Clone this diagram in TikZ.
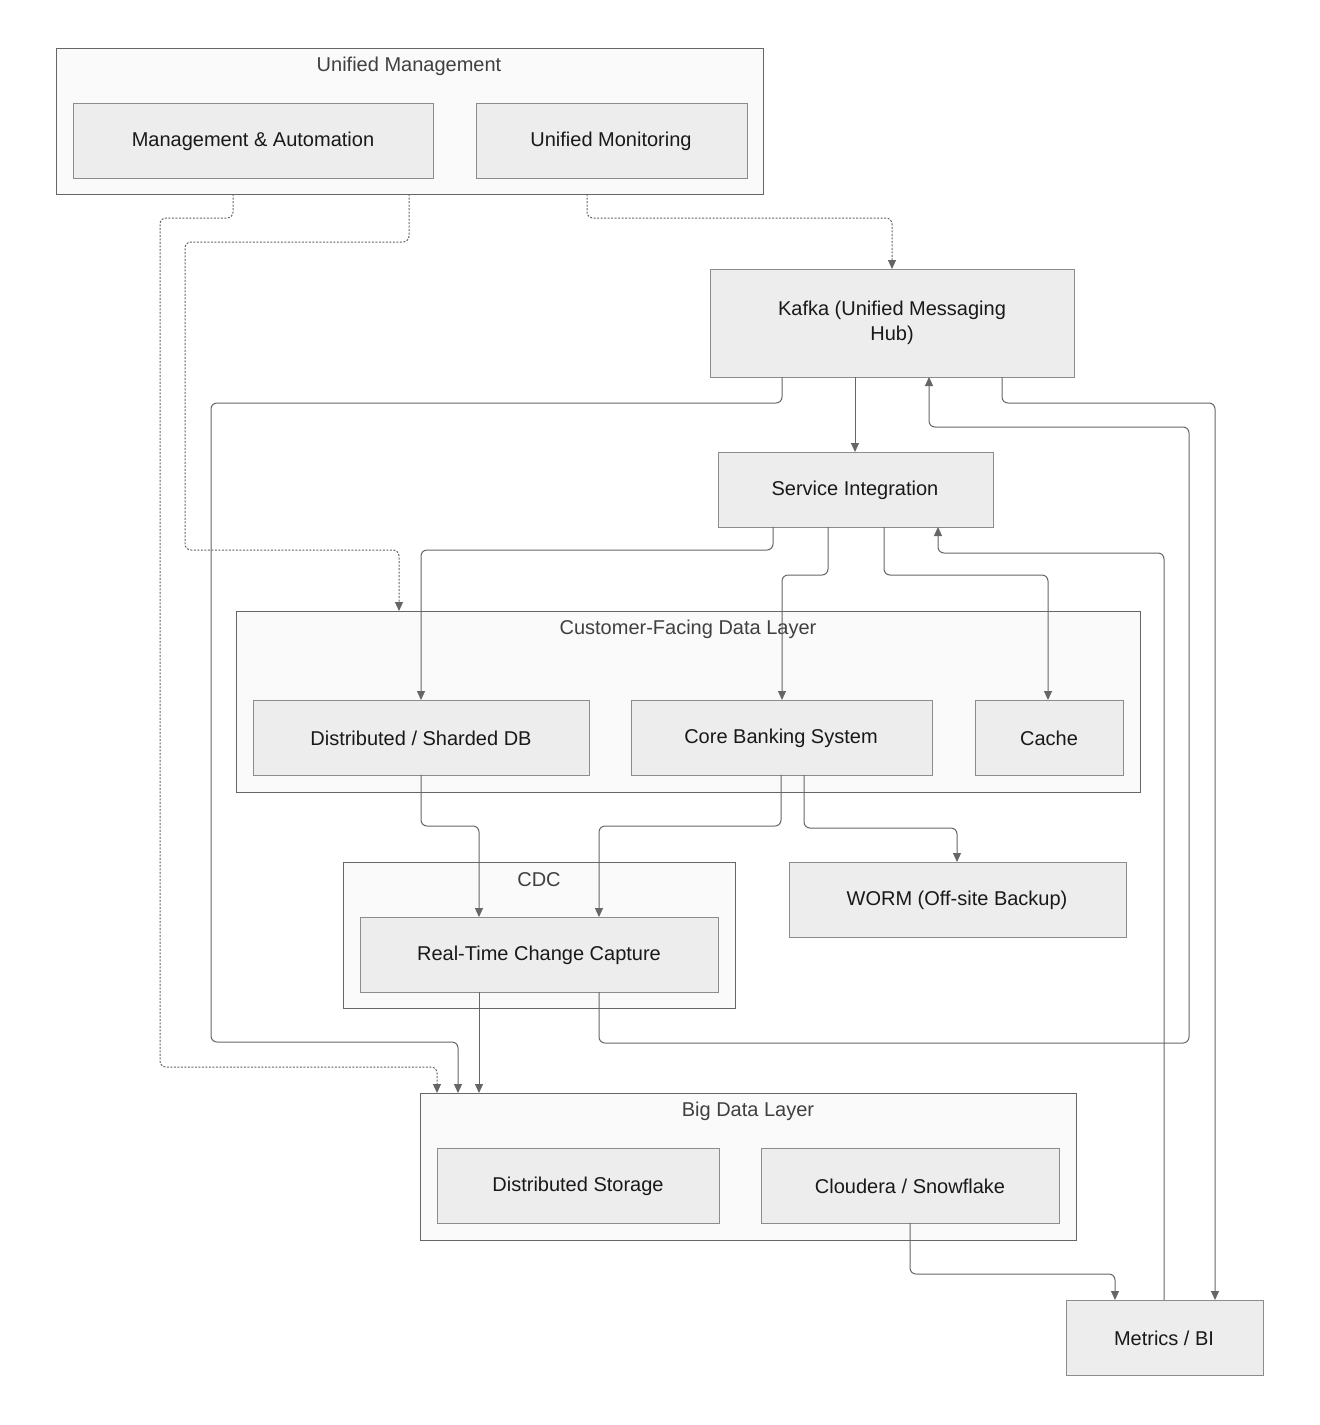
\documentclass[tikz,border=0pt]{standalone}
\usepackage{fontspec}
\setmainfont{Liberation Sans}
\usetikzlibrary{arrows.meta}
\begin{document}
\begin{tikzpicture}[x=1pt,y=-1pt,
  box/.style={draw=black!45,fill=black!7,line width=0.9pt},
  grp/.style={draw=black!60,fill=black!2,line width=0.9pt},
  lbl/.style={font=\fontsize{20}{25}\selectfont,text=black!90,align=center},
  glbl/.style={font=\fontsize{20}{25}\selectfont,text=black!75},
  con/.style={draw=black!60,line width=1pt,rounded corners=6pt,-{Triangle[width=8pt,length=9pt]}},
  dcon/.style={con,dash pattern=on 2pt off 1.5pt}]
\useasboundingbox (0,0) rectangle (1320,1425);
\fill[white] (0,0) rectangle (1320,1425);
% groups
\draw[grp] (56,48) rectangle (763,194); \node[glbl] (gum) at (409,66) {Unified Management};
\draw[grp] (236,611) rectangle (1140,792); \node[glbl] (gcf) at (688,629) {Customer-Facing Data Layer};
\draw[grp] (343,862) rectangle (735,1008); \node[glbl] (gcdc) at (539,880) {CDC};
\draw[grp] (420,1093) rectangle (1076,1240); \node[glbl] (gbd) at (748,1111) {Big Data Layer};
% boxes
\draw[box] (73,103) rectangle (433,178); \node[lbl] (ma) at (253,141) {Management \& Automation};
\draw[box] (476,103) rectangle (747,178); \node[lbl] (um) at (611,141) {Unified Monitoring};
\draw[box] (710,269) rectangle (1074,377); \node[lbl] (kafka) at (892,323) {Kafka (Unified Messaging\\Hub)};
\draw[box] (718,452) rectangle (993,527); \node[lbl] (si) at (855,490) {Service Integration};
\draw[box] (253,700) rectangle (589,775); \node[lbl] (ds) at (421,738) {Distributed / Sharded DB};
\draw[box] (631,700) rectangle (932,775); \node[lbl] (cbs) at (781,738) {Core Banking System};
\draw[box] (975,700) rectangle (1123,775); \node[lbl] (cache) at (1049,738) {Cache};
\draw[box] (360,917) rectangle (718,992); \node[lbl] (rt) at (539,955) {Real-Time Change Capture};
\draw[box] (789,862) rectangle (1126,937); \node[lbl] (worm) at (957,900) {WORM (Off-site Backup)};
\draw[box] (437,1148) rectangle (719,1223); \node[lbl] (dst) at (578,1186) {Distributed Storage};
\draw[box] (761,1148) rectangle (1059,1223); \node[lbl] (cl) at (910,1186) {Cloudera / Snowflake};
\draw[box] (1066,1300) rectangle (1263,1375); \node[lbl] (mbi) at (1164,1338) {Metrics / BI};
% connectors
\draw[dcon] (233,194) -- (233,218) -- (160,218) -- (160,1067) -- (437,1067) -- (437,1093);
\draw[dcon] (409,194) -- (409,242) -- (185,242) -- (185,550) -- (399,550) -- (399,611);
\draw[dcon] (587,194) -- (587,218) -- (892,218) -- (892,269);
\draw[con] (782,377) -- (782,403) -- (211,403) -- (211,1042) -- (458,1042) -- (458,1093);
\draw[con] (855,377) -- (855,452);
\draw[con] (1002,377) -- (1002,403) -- (1215,403) -- (1215,1300);
\draw[con] (773,527) -- (773,550) -- (421,550) -- (421,700);
\draw[con] (828,527) -- (828,575) -- (782,575) -- (782,700);
\draw[con] (884,527) -- (884,575) -- (1048,575) -- (1048,700);
\draw[con] (421,775) -- (421,826) -- (479,826) -- (479,917);
\draw[con] (781,775) -- (781,826) -- (599,826) -- (599,917);
\draw[con] (804,775) -- (804,828) -- (957,828) -- (957,862);
\draw[con] (479,992) -- (479,1093);
\draw[con] (599,992) -- (599,1043) -- (1189,1043) -- (1189,427) -- (929,427) -- (929,377);
\draw[con] (910,1223) -- (910,1274) -- (1115,1274) -- (1115,1300);
\draw[con] (1164,1300) -- (1164,553) -- (938,553) -- (938,527);
\end{tikzpicture}
\end{document}
